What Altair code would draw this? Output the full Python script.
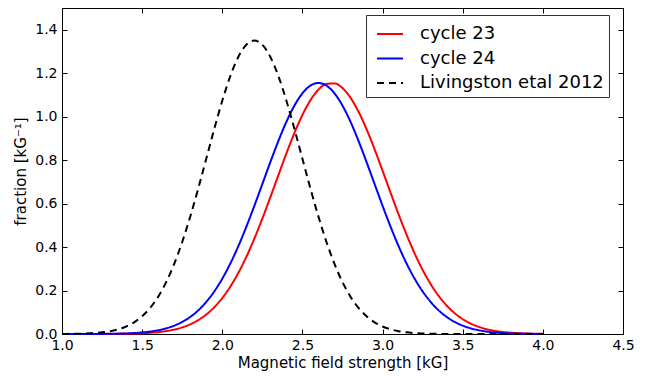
import altair as alt
import pandas as pd

# Magnetic field strength grid [kG]
x_values = [1.00, 1.05, 1.10, 1.15, 1.20, 1.25, 1.30, 1.35, 1.40, 1.45,
            1.50, 1.55, 1.60, 1.65, 1.70, 1.75, 1.80, 1.85, 1.90, 1.95,
            2.00, 2.05, 2.10, 2.15, 2.20, 2.25, 2.30, 2.35, 2.40, 2.45,
            2.50, 2.55, 2.60, 2.65, 2.70, 2.75, 2.80, 2.85, 2.90, 2.95,
            3.00, 3.05, 3.10, 3.15, 3.20, 3.25, 3.30, 3.35, 3.40, 3.45,
            3.50, 3.55, 3.60, 3.65, 3.70, 3.75, 3.80, 3.85, 3.90, 3.95,
            4.00]

cycle23 = [0.0000, 0.0000, 0.0000, 0.0001, 0.0001, 0.0002, 0.0004, 0.0007, 0.0012, 0.0020,
           0.0033, 0.0054, 0.0086, 0.0134, 0.0204, 0.0305, 0.0446, 0.0640, 0.0897, 0.1231,
           0.1656, 0.2180, 0.2811, 0.3549, 0.4388, 0.5312, 0.6297, 0.7310, 0.8309, 0.9248,
           1.0080, 1.0758, 1.1244, 1.1506, 1.1531, 1.1315, 1.0872, 1.0230, 0.9425, 0.8503,
           0.7512, 0.6499, 0.5505, 0.4566, 0.3709, 0.2950, 0.2298, 0.1752, 0.1309, 0.0957,
           0.0685, 0.0481, 0.0330, 0.0222, 0.0146, 0.0094, 0.0059, 0.0037, 0.0022, 0.0013,
           0.0008]

cycle24 = [0.0000, 0.0000, 0.0001, 0.0001, 0.0003, 0.0005, 0.0010, 0.0016, 0.0027, 0.0045,
           0.0072, 0.0112, 0.0173, 0.0261, 0.0384, 0.0555, 0.0785, 0.1087, 0.1475, 0.1958,
           0.2546, 0.3241, 0.4041, 0.4933, 0.5898, 0.6904, 0.7914, 0.8883, 0.9764, 1.0508,
           1.1075, 1.1429, 1.1550, 1.1429, 1.1075, 1.0508, 0.9764, 0.8883, 0.7914, 0.6904,
           0.5898, 0.4933, 0.4041, 0.3241, 0.2546, 0.1958, 0.1475, 0.1087, 0.0785, 0.0555,
           0.0384, 0.0261, 0.0173, 0.0112, 0.0072, 0.0045, 0.0027, 0.0016, 0.0010, 0.0005,
           0.0003]

livingston = [0.0004, 0.0007, 0.0013, 0.0024, 0.0044, 0.0077, 0.0131, 0.0216, 0.0346, 0.0539,
              0.0816, 0.1201, 0.1718, 0.2388, 0.3226, 0.4234, 0.5401, 0.6694, 0.8063, 0.9439,
              1.0736, 1.1868, 1.2749, 1.3308, 1.3500, 1.3308, 1.2749, 1.1868, 1.0736, 0.9439,
              0.8063, 0.6694, 0.5401, 0.4234, 0.3226, 0.2388, 0.1718, 0.1201, 0.0816, 0.0539,
              0.0346, 0.0216, 0.0131, 0.0077, 0.0044, 0.0024, 0.0013, 0.0007, 0.0004, 0.0002,
              0.0001, 0.0000, 0.0000, 0.0000, 0.0000, 0.0000, 0.0000, 0.0000, 0.0000, 0.0000,
              0.0000]

series_names = ["cycle 23", "cycle 24", "Livingston etal 2012"]
series_colors = ["#ff0000", "#0000ff", "#000000"]
series_dashes = [[1, 0], [1, 0], [7, 5]]

x_ticks = [1.0, 1.5, 2.0, 2.5, 3.0, 3.5, 4.0, 4.5]
y_ticks = [0.0, 0.2, 0.4, 0.6, 0.8, 1.0, 1.2, 1.4]

rows = []
for name, ys in zip(series_names, [cycle23, cycle24, livingston]):
    for xv, yv in zip(x_values, ys):
        rows.append({"B": xv, "frac": yv, "series": name})
df = pd.DataFrame(rows)

FONT = "DejaVu Sans"
xscale = alt.Scale(domain=[1.0, 4.5], nice=False, zero=False)
yscale = alt.Scale(domain=[0.0, 1.5], nice=False, zero=False)

legend = alt.Legend(
    title=None, orient="none", legendX=304, legendY=7,
    symbolType="stroke", symbolSize=676, symbolStrokeWidth=2, symbolOffset=5,
    labelFont=FONT, labelFontSize=18, labelColor="black", labelLimit=400,
    labelOffset=16, rowPadding=1.5, padding=5,
    strokeColor="#333333", fillColor="white", cornerRadius=0,
)

main = alt.Chart(df).mark_line(strokeWidth=2, interpolate="monotone").encode(
    x=alt.X("B:Q", scale=xscale,
            axis=alt.Axis(orient="bottom", values=x_ticks, format=".1f", ticks=False,
                          domain=False, grid=False, labelFont=FONT, labelFontSize=14,
                          labelColor="black", labelPadding=4, labelFlush=False,
                          labelOverlap=False, title="Magnetic field strength [kG]",
                          titleFont=FONT, titleFontSize=15, titleFontWeight="normal",
                          titleColor="black", titlePadding=3)),
    y=alt.Y("frac:Q", scale=yscale,
            axis=alt.Axis(orient="left", values=y_ticks, format=".1f", ticks=False,
                          domain=False, grid=False, labelFont=FONT, labelFontSize=14,
                          labelColor="black", labelPadding=5, labelFlush=False,
                          labelOverlap=False, title="fraction [kG⁻¹]",
                          titleFont=FONT, titleFontSize=15, titleFontWeight="normal",
                          titleColor="black", titlePadding=6)),
    color=alt.Color("series:N", scale=alt.Scale(domain=series_names, range=series_colors),
                    legend=legend),
    strokeDash=alt.StrokeDash("series:N", scale=alt.Scale(domain=series_names, range=series_dashes),
                              legend=legend),
    detail="series:N",
)


def tick_axis(orient, values):
    return alt.Axis(orient=orient, values=values, offset=-5, tickSize=5, tickWidth=1,
                    tickColor="black", labels=False, domain=False, grid=False, title=None)


ticks_a = alt.Chart(df).mark_line(strokeOpacity=0).encode(
    x=alt.X("B:Q", scale=xscale, axis=tick_axis("bottom", x_ticks)),
    y=alt.Y("frac:Q", scale=yscale, axis=tick_axis("left", y_ticks)),
    detail="series:N",
)
ticks_b = alt.Chart(df).mark_line(strokeOpacity=0).encode(
    x=alt.X("B:Q", scale=xscale, axis=tick_axis("top", x_ticks)),
    y=alt.Y("frac:Q", scale=yscale, axis=tick_axis("right", y_ticks)),
    detail="series:N",
)

chart = alt.layer(main, ticks_a, ticks_b).resolve_axis(
    x="independent", y="independent"
).properties(
    width=561, height=326,
    autosize=alt.AutoSizeParams(type="none"),
    padding={"left": 62, "top": 8, "right": 32, "bottom": 42},
    background="white",
).configure_view(stroke="black", strokeWidth=1)

chart.save("out.html", embed_options={"renderer": "svg", "actions": False})
